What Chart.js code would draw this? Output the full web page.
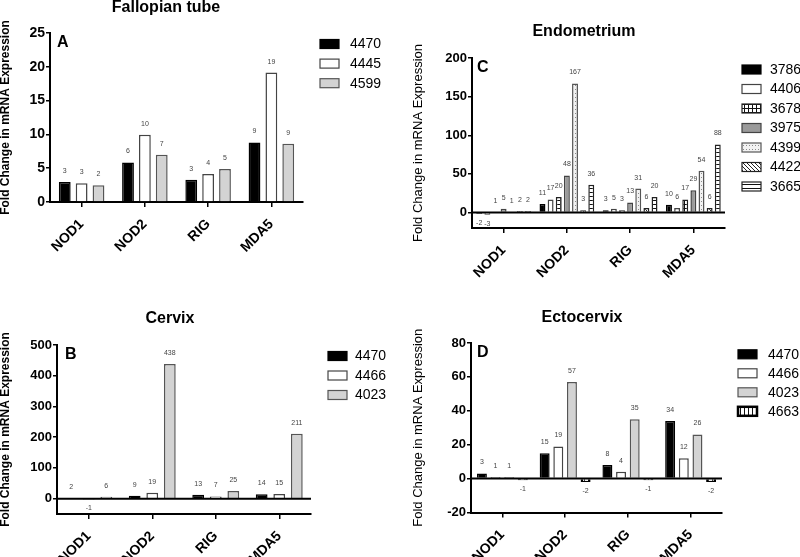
<!DOCTYPE html>
<html><head><meta charset="utf-8">
<script src="https://cdn.jsdelivr.net/npm/chart.js@4.4.1/dist/chart.umd.min.js"></script>
<style>
html,body{margin:0;padding:0;background:#fff;}
#wrap{position:relative;width:800px;height:557px;overflow:hidden;background:#fff;}
canvas{position:absolute;}
</style></head><body>
<div id="wrap">
<canvas id="cA" width="400" height="278" style="left:0;top:0"></canvas>
<canvas id="cC" width="400" height="278" style="left:400px;top:0"></canvas>
<canvas id="cB" width="400" height="279" style="left:0;top:278px"></canvas>
<canvas id="cD" width="400" height="279" style="left:400px;top:278px"></canvas>
</div>
<script>
// ---------- data ----------
const categories = ['NOD1', 'NOD2', 'RIG', 'MDA5'];
const yAxisTitle = 'Fold Change in mRNA Expression';

// Panel A - Fallopian tube
const fallopianSeries = ['4470', '4445', '4599'];
const fallopian4470 = [2.95, 5.86, 3.3, 8.81];
const fallopian4445 = [2.76, 9.95, 4.13, 19.14];
const fallopian4599 = [2.46, 7.0, 4.87, 8.62];
const fallopianTicks = [0, 5, 10, 15, 20, 25];

// Panel B - Cervix
const cervixSeries = ['4470', '4466', '4023'];
const cervix4470 = [2, 9, 13, 14];
const cervix4466 = [-1, 19, 7, 15];
const cervix4023 = [6, 438, 25, 211];
const cervixTicks = [0, 100, 200, 300, 400, 500];

// Panel C - Endometrium
const endoSeries = ['3786', '4406', '3678', '3975', '4399', '4422', '3665'];
const endo3786 = [-2, 11, 3, 10];
const endo4406 = [-3, 17, 5, 6];
const endo3678 = [1, 20, 3, 17];
const endo3975 = [5, 48, 13, 29];
const endo4399 = [1, 167, 31, 54];
const endo4422 = [2, 3, 6, 6];
const endo3665 = [2, 36, 20, 88];
const endoTicks = [0, 50, 100, 150, 200];

// Panel D - Ectocervix
const ectoSeries = ['4470', '4466', '4023', '4663'];
const ecto4470 = [3, 15, 8, 34];
const ecto4466 = [1, 19, 4, 12];
const ecto4023 = [1, 57, 35, 26];
const ecto4663 = [-1, -2, -1, -2];
const ectoTicks = [-20, 0, 20, 40, 60, 80];

// ---------- styles ----------
const FAM = '"Liberation Sans", Arial, Helvetica, sans-serif';

function tile(ctx, w, h, bg, draw) {
  const c = document.createElement('canvas');
  c.width = w; c.height = h;
  const g = c.getContext('2d');
  g.fillStyle = bg; g.fillRect(0, 0, w, h);
  draw(g);
  return ctx.createPattern(c, 'repeat');
}

const ctxC = document.getElementById('cC').getContext('2d');
const ctxD = document.getElementById('cD').getContext('2d');
const patGrid = tile(ctxC, 4, 4, '#fff', g => { g.fillStyle = '#111'; g.fillRect(0, 0, 4, 1); g.fillRect(0, 0, 1, 4); });
const patDots = tile(ctxC, 3, 4, '#f2f2f2', g => { g.fillStyle = '#8a8a8a'; g.fillRect(1, 1, 1, 1); });
const patHatch = tile(ctxC, 4, 4, '#fff', g => { g.fillStyle = '#222'; for (let i = 0; i < 4; i++) g.fillRect(i, i, 1, 1); });
const patHoriz = tile(ctxC, 4, 4, '#fff', g => { g.fillStyle = '#111'; g.fillRect(0, 0, 4, 1); });
const patVert = tile(ctxD, 4, 4, '#fff', g => { g.fillStyle = '#111'; g.fillRect(0, 0, 1, 4); });

const S_BLACK = {backgroundColor: '#000', borderColor: '#000', borderWidth: 1.5};
const S_WHITE = {backgroundColor: '#fff', borderColor: '#444', borderWidth: 1.5};
const S_LGRAY = {backgroundColor: '#d3d3d3', borderColor: '#555', borderWidth: 1.5};
const S_GRID = {backgroundColor: patGrid, borderColor: '#222', borderWidth: 1.5};
const S_MGRAY = {backgroundColor: '#9a9a9a', borderColor: '#444', borderWidth: 1.5};
const S_DOTS = {backgroundColor: patDots, borderColor: '#555', borderWidth: 1.5};
const S_HATCH = {backgroundColor: patHatch, borderColor: '#222', borderWidth: 1.5};
const S_HORIZ = {backgroundColor: patHoriz, borderColor: '#222', borderWidth: 1.5};
const S_VERT = {backgroundColor: patVert, borderColor: '#000', borderWidth: 2.5};

// ---------- decoration plugin: zero line, value labels, title, panel letter, legend ----------
const decoPlugin = {
  id: 'deco',
  afterDatasetsDraw(chart, args, o) {
    const ctx = chart.ctx, ca = chart.chartArea;
    ctx.save();
    if (o.zeroLine) {
      const y0 = chart.scales.y.getPixelForValue(0);
      ctx.strokeStyle = '#000'; ctx.lineWidth = 2;
      ctx.beginPath(); ctx.moveTo(ca.left, y0); ctx.lineTo(ca.right, y0); ctx.stroke();
    }
    ctx.font = '7px ' + FAM; ctx.fillStyle = '#444';
    ctx.textAlign = 'center'; ctx.textBaseline = 'middle';
    chart.data.datasets.forEach((ds, di) => {
      const meta = chart.getDatasetMeta(di);
      meta.data.forEach((el, i) => {
        const v = ds.data[i];
        const txt = String(Math.round(v));
        if (v >= 0) ctx.fillText(txt, el.x, Math.min(el.y, el.base) - 11);
        else ctx.fillText(txt, el.x, Math.max(el.y, el.base) + 9);
      });
    });
    ctx.fillStyle = '#000';
    ctx.font = 'bold 16px ' + FAM;
    ctx.fillText(o.title, o.titleX, o.titleY);
    ctx.textAlign = 'left'; ctx.textBaseline = 'top';
    ctx.fillText(o.letter, ca.left + o.letterDx, ca.top + 2);
    // legend
    ctx.font = '14px ' + FAM; ctx.textBaseline = 'middle';
    chart.data.datasets.forEach((ds, i) => {
      const cy = o.legY + i * o.legPitch;
      ctx.fillStyle = ds.backgroundColor;
      ctx.fillRect(o.legX, cy - 4.5, 19, 9);
      ctx.strokeStyle = ds.borderColor; ctx.lineWidth = ds.borderWidth > 2 ? 2.5 : 1.2;
      ctx.strokeRect(o.legX, cy - 4.5, 19, 9);
      ctx.fillStyle = '#000';
      ctx.fillText(ds.label, o.legX + o.legText, cy + 0.5);
    });
    ctx.restore();
  }
};

function makeDatasets(names, arrays, styles, cp, bp) {
  return names.map((n, i) => Object.assign({label: n, data: arrays[i], categoryPercentage: cp, barPercentage: bp}, styles[i]));
}

function makeChart(id, datasets, c) {
  return new Chart(document.getElementById(id), {
    type: 'bar',
    data: {labels: categories, datasets},
    options: {
      responsive: false, animation: false, devicePixelRatio: 1,
      layout: {padding: {top: c.top, right: c.right, left: 0, bottom: 0}},
      plugins: {
        legend: {display: false}, tooltip: {enabled: false}, title: {display: false},
        deco: c.deco
      },
      scales: {
        x: {
          grid: {display: true, drawOnChartArea: false, offset: false, drawTicks: true, tickLength: 5, color: '#000', lineWidth: 1.5},
          border: {display: true, color: '#000', width: 2},
          ticks: {font: {family: FAM, size: 14, weight: 'bold'}, color: '#000', minRotation: 45, maxRotation: 45, autoSkip: false, padding: 9},
          afterFit(s) { s.height = c.xh; }
        },
        y: {
          min: c.min, max: c.max,
          grid: {display: true, drawOnChartArea: false, drawTicks: true, tickLength: 4, color: '#000', lineWidth: 1.5},
          border: {display: true, color: '#000', width: 2},
          ticks: {font: {family: FAM, size: c.tickSize, weight: 'bold'}, color: '#000', padding: 1},
          afterBuildTicks(s) { s.ticks = c.ticks.map(v => ({value: v})); },
          afterFit(s) { s.width = c.yw; },
          title: {display: true, text: yAxisTitle, color: '#000',
                  font: {family: FAM, size: c.ytSize, weight: c.ytWeight, lineHeight: 1},
                  padding: {top: c.ytPad, bottom: 0}}
        }
      }
    },
    plugins: [decoPlugin]
  });
}

// Panel A
makeChart('cA',
  makeDatasets(fallopianSeries, [fallopian4470, fallopian4445, fallopian4599], [S_BLACK, S_WHITE, S_LGRAY], 0.8, 0.7),
  {top: 33, right: 97, xh: 76, yw: 50, min: 0, max: 25, ticks: fallopianTicks, tickSize: 14,
   ytSize: 12, ytWeight: 'bold', ytPad: 0,
   deco: {zeroLine: false, title: 'Fallopian tube', titleX: 166, titleY: 8, letter: 'A', letterDx: 7,
          legX: 320, legY: 44, legPitch: 19.6, legText: 30}});

// Panel C
makeChart('cC',
  makeDatasets(endoSeries, [endo3786, endo4406, endo3678, endo3975, endo4399, endo4422, endo3665],
               [S_BLACK, S_WHITE, S_GRID, S_MGRAY, S_DOTS, S_HATCH, S_HORIZ], 0.9, 0.73),
  {top: 58, right: 75, xh: 50, yw: 72, min: -20, max: 200, ticks: endoTicks, tickSize: 13,
   ytSize: 13, ytWeight: 'normal', ytPad: 11.5,
   deco: {zeroLine: true, title: 'Endometrium', titleX: 184, titleY: 32, letter: 'C', letterDx: 5,
          legX: 342, legY: 69.5, legPitch: 19.5, legText: 28}});

// Panel B
makeChart('cB',
  makeDatasets(cervixSeries, [cervix4470, cervix4466, cervix4023], [S_BLACK, S_WHITE, S_LGRAY], 0.83, 0.67),
  {top: 67, right: 89, xh: 43, yw: 57, min: -50, max: 500, ticks: cervixTicks, tickSize: 13,
   ytSize: 12, ytWeight: 'bold', ytPad: 0,
   deco: {zeroLine: true, title: 'Cervix', titleX: 170, titleY: 41, letter: 'B', letterDx: 8,
          legX: 328, legY: 78, legPitch: 19.5, legText: 27}});

// Panel D
makeChart('cD',
  makeDatasets(ectoSeries, [ecto4470, ecto4466, ecto4023, ecto4663], [S_BLACK, S_WHITE, S_LGRAY, S_VERT], 0.87, 0.73),
  {top: 65, right: 78, xh: 44.5, yw: 71, min: -20, max: 80, ticks: ectoTicks, tickSize: 13,
   ytSize: 13, ytWeight: 'normal', ytPad: 11.5,
   deco: {zeroLine: true, title: 'Ectocervix', titleX: 182, titleY: 40, letter: 'D', letterDx: 6,
          legX: 338, legY: 76.3, legPitch: 19, legText: 30}});
</script>
</body></html>
